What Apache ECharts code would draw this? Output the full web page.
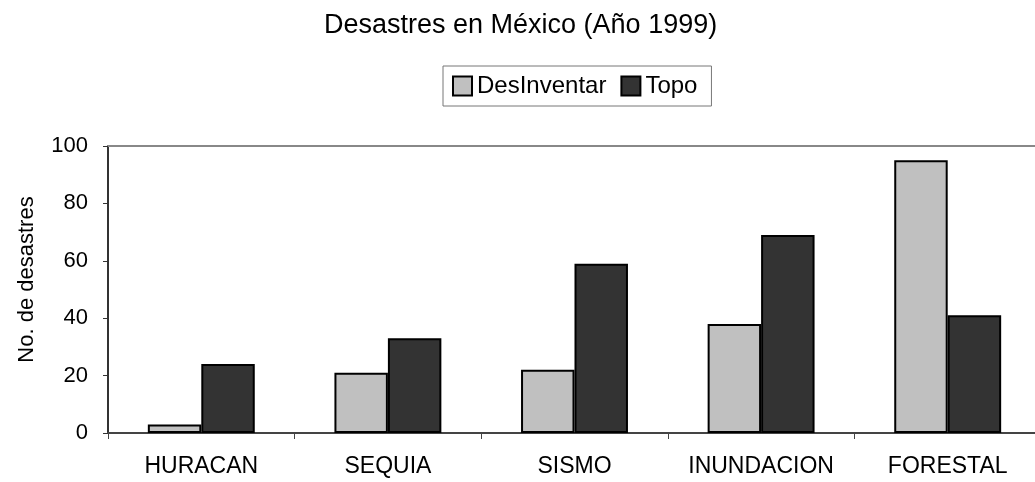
<!DOCTYPE html>
<html>
<head>
<meta charset="utf-8">
<script src="https://cdn.jsdelivr.net/npm/echarts@6/dist/echarts.min.js"></script>
<style>
  html, body { margin: 0; padding: 0; background: #fff; overflow: hidden; width: 1035px; height: 482px; }
  /* canvas runs past the right edge so the last category is cut off by the page */
  #chart { width: 1050px; height: 482px; }
</style>
</head>
<body>
<div id="chart"></div>
<script>
// Disaster counts per type, Mexico 1999, from two databases
const categories = ['HURACAN', 'SEQUIA', 'SISMO', 'INUNDACION', 'FORESTAL'];
const desInventar = [3, 21, 22, 38, 95];
const topo = [24, 33, 59, 69, 41];
const seriesNames = ['DesInventar', 'Topo'];
const yTicks = { min: 0, max: 100, interval: 20 };

const FONT = 'Liberation Sans, Arial, sans-serif';
const fills = ['#c0c0c0', '#333333'];

const chart = echarts.init(document.getElementById('chart'), null, { renderer: 'canvas' });

chart.setOption({
  backgroundColor: '#ffffff',
  animation: false,
  title: {
    text: 'Desastres en México (Año 1999)',
    left: 319,
    top: 7,
    textStyle: { fontFamily: FONT, fontSize: 27, fontWeight: 'normal', color: '#000' }
  },
  legend: {
    left: 443,
    top: 66,
    padding: [8, 14, 8, 9],
    itemWidth: 19,
    itemHeight: 19,
    itemGap: 14,
    borderColor: '#777',
    borderWidth: 1,
    icon: 'rect',
    textStyle: { fontFamily: FONT, fontSize: 24, color: '#000' },
    data: seriesNames.map((n, i) => ({
      name: n,
      itemStyle: { color: fills[i], borderColor: '#000', borderWidth: 2 }
    }))
  },
  grid: {
    left: 108,
    top: 146,
    width: 933,
    height: 287,
    show: false
  },
  xAxis: [
    {
      type: 'category',
      data: categories,
      axisLine: { lineStyle: { color: '#444', width: 2 } },
      axisTick: { show: true, interval: 0, length: 6, lineStyle: { color: '#444', width: 1 } },
      axisLabel: { interval: 0, fontFamily: FONT, fontSize: 23, color: '#000', margin: 22 },
      splitLine: { show: false }
    },
    {
      // plain top edge of the plot frame
      type: 'category',
      data: categories,
      position: 'top',
      axisLine: { show: true, lineStyle: { color: '#888', width: 2 } },
      axisTick: { show: false },
      axisLabel: { show: false },
      splitLine: { show: false }
    }
  ],
  yAxis: {
    type: 'value',
    min: yTicks.min,
    max: yTicks.max,
    interval: yTicks.interval,
    name: 'No. de desastres',
    nameLocation: 'middle',
    nameRotate: 90,
    nameGap: 70,
    nameTextStyle: { fontFamily: FONT, fontSize: 22, color: '#000', padding: [0, 0, 0, 20] },
    axisLine: { show: true, lineStyle: { color: '#333', width: 2 } },
    axisTick: { show: true, length: 5, lineStyle: { color: '#333', width: 1 } },
    axisLabel: { fontFamily: FONT, fontSize: 22, color: '#000', margin: 20 },
    splitLine: { show: false }
  },
  series: [
    {
      name: seriesNames[0],
      type: 'bar',
      data: desInventar,
      barGap: '0%',
      barCategoryGap: '42.7%',
      itemStyle: { color: fills[0], borderColor: '#000', borderWidth: 2 }
    },
    {
      name: seriesNames[1],
      type: 'bar',
      data: topo,
      barGap: '0%',
      barCategoryGap: '42.7%',
      itemStyle: { color: fills[1], borderColor: '#000', borderWidth: 2 }
    }
  ]
});
</script>
</body>
</html>
